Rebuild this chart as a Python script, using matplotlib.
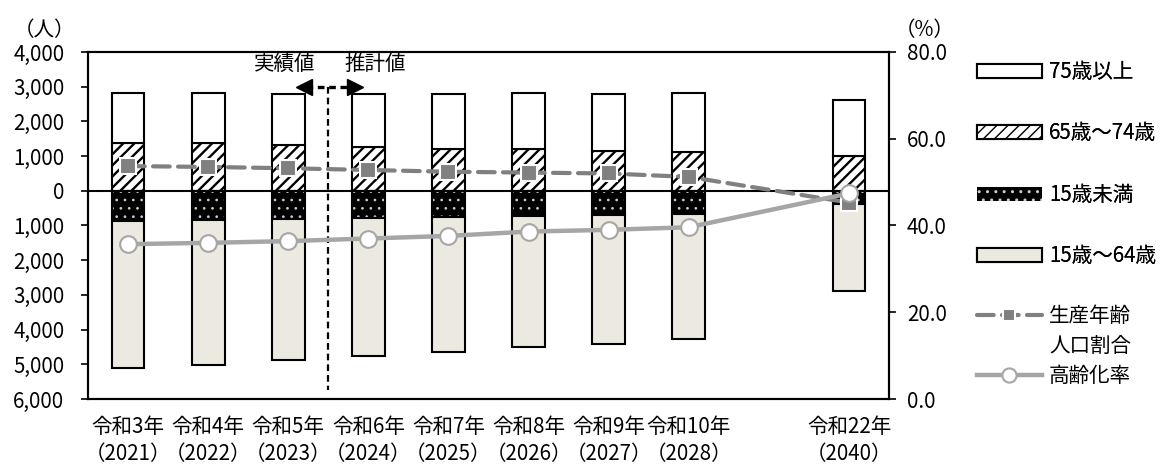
import matplotlib
matplotlib.use("Agg")
import matplotlib.pyplot as plt
from matplotlib.lines import Line2D
from matplotlib.ticker import FuncFormatter, FixedLocator

plt.rcParams['font.family'] = ['Noto Sans CJK JP', 'DejaVu Sans']

# Categories (令和22年 is set apart from the yearly run)
years = ["令和3年\n（2021）", "令和4年\n（2022）", "令和5年\n（2023）", "令和6年\n（2024）",
         "令和7年\n（2025）", "令和8年\n（2026）", "令和9年\n（2027）", "令和10年\n（2028）",
         "令和22年\n（2040）"]
positions = [0, 1, 2, 3, 4, 5, 6, 7, 9]

# Population by age group (people)
over75 = [1430, 1447, 1461, 1536, 1593, 1631, 1642, 1683, 1614]
age65_74 = [1386, 1369, 1320, 1254, 1205, 1196, 1156, 1127, 1003]
under15 = [870, 841, 822, 793, 764, 726, 697, 669, 380]
age15_64 = [4228, 4179, 4063, 3968, 3882, 3784, 3709, 3602, 2508]

# Ratios (%)
working_ratio = [53.7, 53.5, 53.2, 52.8, 52.4, 52.2, 52.0, 51.2, 45.3]
aging_rate = [35.7, 36.0, 36.4, 37.0, 37.6, 38.6, 39.0, 39.6, 47.4]

left_ticks = [4000, 3000, 2000, 1000, 0, -1000, -2000, -3000, -4000, -5000, -6000]
right_ticks = [0, 20, 40, 60, 80]

fs = 14.8
W, H = 1168, 473
fig = plt.figure(figsize=(W / 100, H / 100), dpi=100)
ax = fig.add_axes([88 / W, 1 - 399 / H, (889 - 88) / W, (399 - 52) / H])
ax.set_xlim(-0.5, 9.5)
ax.set_ylim(-6000, 4000)

bw = 0.41
beige = '#ECEAE0'
edge_lw = 1.5

with plt.rc_context({'hatch.linewidth': 1.7}):
    b_6574 = ax.bar(positions, age65_74, bw, bottom=0, facecolor='white', edgecolor='black',
                    hatch='///', linewidth=edge_lw, zorder=2)
b_75 = ax.bar(positions, over75, bw, bottom=age65_74, facecolor='white', edgecolor='black',
              linewidth=edge_lw, zorder=2)
neg_u15 = [-v for v in under15]
with plt.rc_context({'hatch.linewidth': 0.7}):
    b_u15 = ax.bar(positions, neg_u15, bw, bottom=0, facecolor='black', edgecolor='#cfcfcf',
                   hatch='..', linewidth=0, zorder=2)
ax.bar(positions, neg_u15, bw, bottom=0, facecolor='none', edgecolor='black',
       linewidth=edge_lw, zorder=2)
b_1564 = ax.bar(positions, [-v for v in age15_64], bw, bottom=neg_u15, facecolor=beige,
                edgecolor='black', linewidth=edge_lw, zorder=2)

ax.axhline(0, color='black', lw=1.5, zorder=3)

# Boundary between actual and projected values
ax.plot([2.5, 2.5], [2990, -5750], color='black', lw=1.6, dashes=(3, 1.8), zorder=4)
ax.plot([2.22, 2.81], [2990, 2990], color='black', lw=2.4, dashes=(2, 1.4), zorder=4)
ax.plot([2.2], [2990], marker='<', color='black', markersize=12, zorder=4)
ax.plot([2.83], [2990], marker='>', color='black', markersize=12, zorder=4)
ax.text(1.95, 3650, "実績値", ha='center', va='center', fontsize=fs)
ax.text(3.08, 3650, "推計値", ha='center', va='center', fontsize=fs)

ax.yaxis.set_major_locator(FixedLocator(left_ticks))
ax.yaxis.set_major_formatter(FuncFormatter(lambda v, p: f"{abs(int(round(v))):,}"))
ax.set_xticks(positions)
ax.set_xticklabels(years, fontsize=fs, linespacing=1.3)
ax.tick_params(axis='x', length=0, pad=12)
ax.tick_params(axis='y', length=5, width=1.2, pad=12, labelsize=fs, direction='out')
for s in ax.spines.values():
    s.set_linewidth(1.5)
    s.set_color('black')

ax2 = ax.twinx()
ax2.set_ylim(0, 80)
ax2.yaxis.set_major_locator(FixedLocator(right_ticks))
ax2.yaxis.set_major_formatter(FuncFormatter(lambda v, p: f"{v:.1f}"))
ax2.tick_params(axis='y', length=5, width=1.2, pad=8, labelsize=fs, direction='out')
for s in ax2.spines.values():
    s.set_linewidth(1.5)
    s.set_color('black')

l_work, = ax2.plot(positions, working_ratio, color='#808080', lw=3, dashes=(4, 2),
                   dash_capstyle='round', marker='s', markersize=11,
                   markerfacecolor='#808080', markeredgecolor='white', markeredgewidth=1.5,
                   zorder=5)
l_aging, = ax2.plot(positions, aging_rate, color='#A6A6A6', lw=3.2, marker='o', markersize=12,
                    markerfacecolor='white', markeredgecolor='#A6A6A6', markeredgewidth=1.5,
                    zorder=6)

fig.text(45 / W, 1 - 30 / H, "（人）", ha='center', va='center', fontsize=fs)
fig.text(925 / W, 1 - 30 / H, "（%）", ha='center', va='center', fontsize=fs)

leg1 = fig.legend([b_75, b_6574, b_u15, b_1564], ["75歳以上", "65歳～74歳", "15歳未満", "15歳～64歳"],
                  loc='upper left', bbox_to_anchor=(977 / W, 1 - 61 / H), frameon=False,
                  fontsize=fs, handlelength=3.15, handleheight=0.68, handletextpad=0.35,
                  labelspacing=1.92, borderpad=0, borderaxespad=0)
blank = Line2D([], [], color='none')
fig.legend([l_work, blank, l_aging], ["生産年齢", "人口割合", "高齢化率"],
           loc='upper left', bbox_to_anchor=(977 / W, 1 - 305 / H), frameon=False,
           fontsize=fs, handlelength=3.15, handletextpad=0.35, labelspacing=0.4,
           borderpad=0, borderaxespad=0, markerscale=0.85)
fig.add_artist(leg1)

fig.savefig("out.png", dpi=100)
